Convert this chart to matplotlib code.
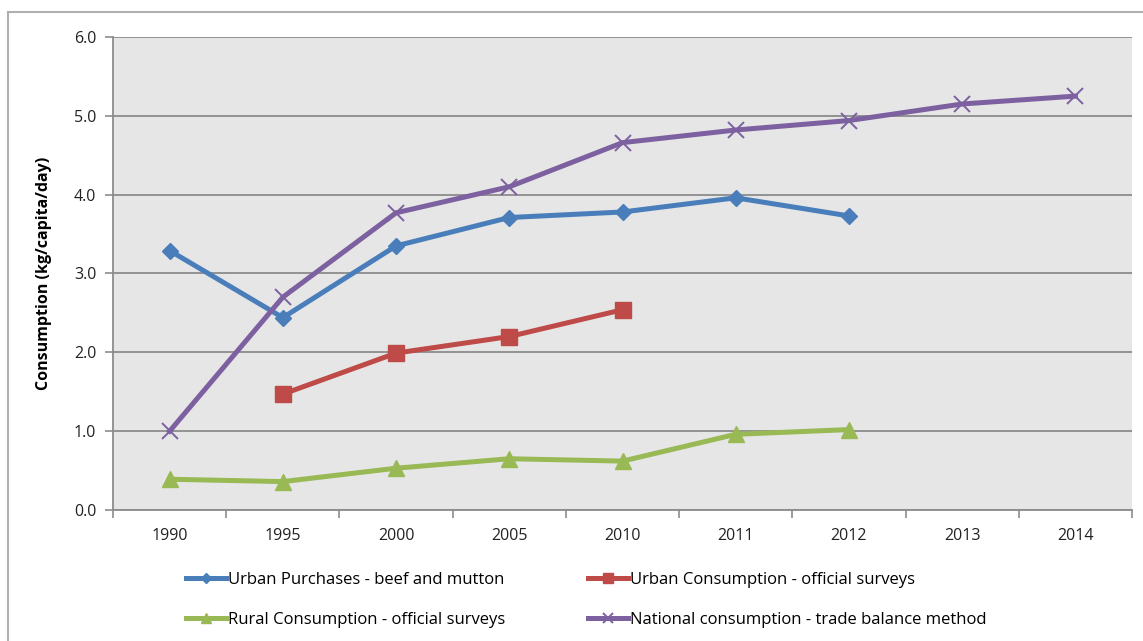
import numpy as np
import matplotlib
matplotlib.use("Agg")
import matplotlib.pyplot as plt
from matplotlib.lines import Line2D

years = ["1990", "1995", "2000", "2005", "2010", "2011", "2012", "2013", "2014"]

urban_purchases = [3.29, 2.44, 3.35, 3.71, 3.78, 3.96, 3.73, None, None]
urban_consumption = [None, 1.47, 1.99, 2.20, 2.54, None, None, None, None]
rural_consumption = [0.39, 0.36, 0.53, 0.65, 0.62, 0.96, 1.02, None, None]
national_consumption = [1.00, 2.70, 3.77, 4.10, 4.66, 4.82, 4.94, 5.15, 5.25]

labels = ["Urban Purchases - beef and mutton",
          "Urban Consumption - official surveys",
          "Rural Consumption - official surveys",
          "National consumption - trade balance method"]

plt.rcParams['font.family'] = ['Open Sans', 'DejaVu Sans']

fig = plt.figure(figsize=(11.43, 6.41), dpi=100)
ax = fig.add_axes([0.0989, 0.2044, 0.8915, 0.7379])
ax.set_facecolor('#e6e6e6')

x = np.arange(len(years))

def arr(vals):
    return np.array([np.nan if v is None else v for v in vals], dtype=float)

lw = 3.6
ax.plot(x, arr(urban_purchases), color='#4a7ebb', lw=lw, marker='D', ms=8,
        label=labels[0], zorder=4)
ax.plot(x, arr(urban_consumption), color='#be4b48', lw=lw, marker='s', ms=11,
        label=labels[1], zorder=4)
ax.plot(x, arr(rural_consumption), color='#98b954', lw=lw, marker='^', ms=11,
        label=labels[2], zorder=4)
ax.plot(x, arr(national_consumption), color='#7d60a0', lw=lw, marker='x', ms=12,
        mew=1.4, label=labels[3], zorder=5)

ax.set_xlim(-0.5, len(years) - 0.5)
ax.set_ylim(0, 6)
ax.set_yticks(np.arange(0, 6.01, 1.0))
ax.set_yticklabels([f"{v:.1f}" for v in np.arange(0, 6.01, 1.0)])
ax.yaxis.grid(True, color='#8c8c8c', lw=1.3)
ax.set_axisbelow(True)

# category labels centred, tick marks on category boundaries
ax.set_xticks(x)
ax.set_xticklabels(years)
ax.tick_params(axis='x', which='major', length=0, pad=13, labelsize=11.5, colors='#222222')
ax.set_xticks(np.arange(-0.5, len(years), 1.0), minor=True)
ax.tick_params(axis='x', which='minor', length=6, width=1.2, color='#8c8c8c')
ax.tick_params(axis='y', length=6, width=1.2, color='#8c8c8c', labelsize=11.5,
               labelcolor='#222222', pad=6)

for s in ['top', 'right']:
    ax.spines[s].set_visible(False)
for s in ['left', 'bottom']:
    ax.spines[s].set_color('#8c8c8c')
    ax.spines[s].set_linewidth(1.3)

ax.set_ylabel("Consumption (kg/capita/day)", fontsize=11.5, fontweight='bold')
ax.yaxis.set_label_coords(-0.06, 0.5)

# legend below the axes, two columns
handles, leg_labels = ax.get_legend_handles_labels()
order = [0, 2, 1, 3]
leg = fig.legend([handles[i] for i in order], [leg_labels[i] for i in order],
                 ncol=2, loc='center', bbox_to_anchor=(0.513, 0.064),
                 frameon=False, fontsize=12, handlelength=2.4,
                 handletextpad=0.1, columnspacing=5.0, labelspacing=1.4,
                 markerscale=0.6)

# chart frame
fig.add_artist(Line2D([8 / 1143, 8 / 1143], [0, 1 - 12 / 641],
                      transform=fig.transFigure, color='#b0b0b0', lw=1.5))
fig.add_artist(Line2D([8 / 1143, 1], [1 - 12 / 641, 1 - 12 / 641],
                      transform=fig.transFigure, color='#b0b0b0', lw=1.5))

fig.savefig("out.png", dpi=100)
